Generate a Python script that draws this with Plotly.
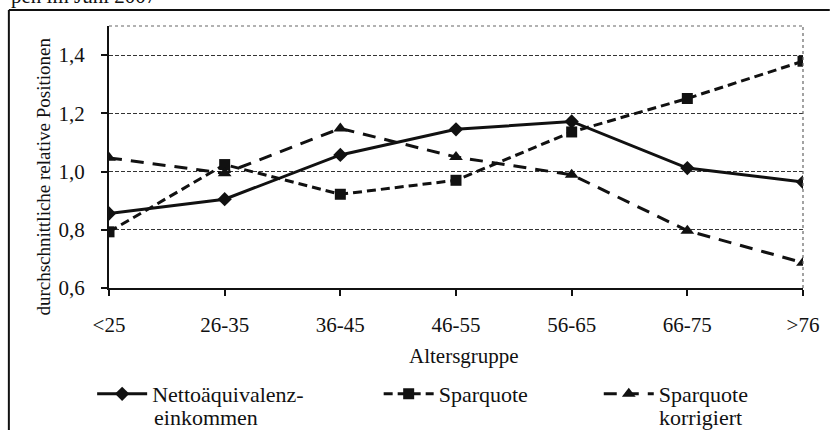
import plotly.graph_objects as go

categories = ["<25", "26-35", "36-45", "46-55", "56-65", "66-75", ">76"]
netto = [0.856, 0.905, 1.057, 1.145, 1.172, 1.012, 0.964]
sparquote = [0.793, 1.024, 0.922, 0.970, 1.136, 1.251, 1.379]
sparquote_korr = [1.047, 0.994, 1.148, 1.050, 0.989, 0.797, 0.687]
y_ticks = [0.6, 0.8, 1.0, 1.2, 1.4]
y_ticklabels = ["0,6", "0,8", "1,0", "1,2", "1,4"]
legend_line1 = ["Nettoäquivalenz-", "Sparquote", "Sparquote"]
legend_line2 = ["einkommen", "", "korrigiert"]

FONT = "Liberation Serif, Times New Roman, serif"
W, H = 831, 430
L, R, T, B = 109, 809, 26, 288  # plot area in pixels

def px(x):
    return (x - L) / (R - L)

def py(y):
    return (B - y) / (B - T)

fig = go.Figure()
fig.add_trace(go.Scatter(
    x=categories, y=netto, mode="lines+markers",
    name=legend_line1[0],
    line=dict(color="#111", width=3),
    marker=dict(symbol="diamond", size=11, color="#111"),
    legend="legend",
))
fig.add_trace(go.Scatter(
    x=categories, y=sparquote, mode="lines+markers",
    name=legend_line1[1],
    line=dict(color="#111", width=3, dash="9px,5px"),
    marker=dict(symbol="square", size=11, color="#111"),
    legend="legend2",
))
fig.add_trace(go.Scatter(
    x=categories, y=sparquote_korr, mode="lines+markers",
    name=legend_line1[2],
    line=dict(color="#111", width=3, dash="13px,9px"),
    marker=dict(symbol="triangle-up", size=12, color="#111"),
    legend="legend3",
))

legend_common = dict(
    orientation="h", xanchor="left", yanchor="middle", valign="middle",
    font=dict(family=FONT, size=22, color="#111"),
    bgcolor="rgba(0,0,0,0)", itemwidth=50, tracegroupgap=0,
)
LEG_Y = 394
fig.update_layout(
    legend=dict(x=px(92), y=py(LEG_Y), **legend_common),
    legend2=dict(x=px(381), y=py(LEG_Y), **legend_common),
    legend3=dict(x=px(603), y=py(LEG_Y), **legend_common),
)

fig.update_xaxes(
    type="category", range=[0, 6], showgrid=False,
    showline=True, linecolor="#111", linewidth=2,
    ticks="outside", ticklen=6, tickwidth=1.5, tickcolor="#111",
    tickfont=dict(family=FONT, size=21, color="#111"),
    ticklabelstandoff=11, zeroline=False,
)
fig.update_yaxes(
    range=[0.6, 1.5], tickvals=y_ticks, ticktext=y_ticklabels,
    showgrid=True, gridcolor="#333", gridwidth=1, griddash="4px,2px",
    showline=True, linecolor="#111", linewidth=2,
    ticks="outside", ticklen=6, tickwidth=1.5, tickcolor="#111",
    tickfont=dict(family=FONT, size=21, color="#111"),
    ticklabelstandoff=12, zeroline=False,
)

shapes = [
    # dotted top and right border of plot area
    dict(type="line", xref="paper", yref="paper", x0=0, x1=1, y0=1, y1=1,
         line=dict(color="#666", width=1.2, dash="dot")),
    dict(type="line", xref="paper", yref="paper", x0=1, x1=1, y0=0, y1=1,
         line=dict(color="#666", width=1.2, dash="dot")),
    # outer frame lines
    dict(type="line", xref="paper", yref="paper", x0=px(8), x1=px(W + 5), y0=py(10), y1=py(10),
         line=dict(color="#111", width=2)),
    dict(type="line", xref="paper", yref="paper", x0=px(8), x1=px(8), y0=py(10), y1=py(H + 5),
         line=dict(color="#111", width=2)),
]

annotations = [
    dict(text="durchschnittliche relative Positionen", textangle=-90,
         xref="paper", yref="paper", x=px(42), y=py(177), xanchor="center", yanchor="middle",
         showarrow=False, font=dict(family=FONT, size=19, color="#111")),
    dict(text="Altersgruppe", xref="paper", yref="paper", x=px(467), y=py(356),
         xanchor="center", yanchor="middle", showarrow=False,
         font=dict(family=FONT, size=21, color="#111")),
    dict(text="pen im Juni 2007", xref="paper", yref="paper", x=px(8), y=py(10),
         xanchor="left", yanchor="bottom", showarrow=False,
         font=dict(family=FONT, size=21, color="#111")),
    dict(text=legend_line2[0], xref="paper", yref="paper", x=px(152), y=py(417),
         xanchor="left", yanchor="middle", showarrow=False,
         font=dict(family=FONT, size=22, color="#111")),
    dict(text=legend_line2[2], xref="paper", yref="paper", x=px(662), y=py(417),
         xanchor="left", yanchor="middle", showarrow=False,
         font=dict(family=FONT, size=22, color="#111")),
]

fig.update_layout(
    width=W, height=H,
    margin=dict(l=L, r=W - R, t=T, b=H - B),
    paper_bgcolor="white", plot_bgcolor="white",
    showlegend=True,
    shapes=shapes, annotations=annotations,
)

fig.write_html("out.html", config={"displayModeBar": False},
               post_script="document.body.style.margin='0';")
